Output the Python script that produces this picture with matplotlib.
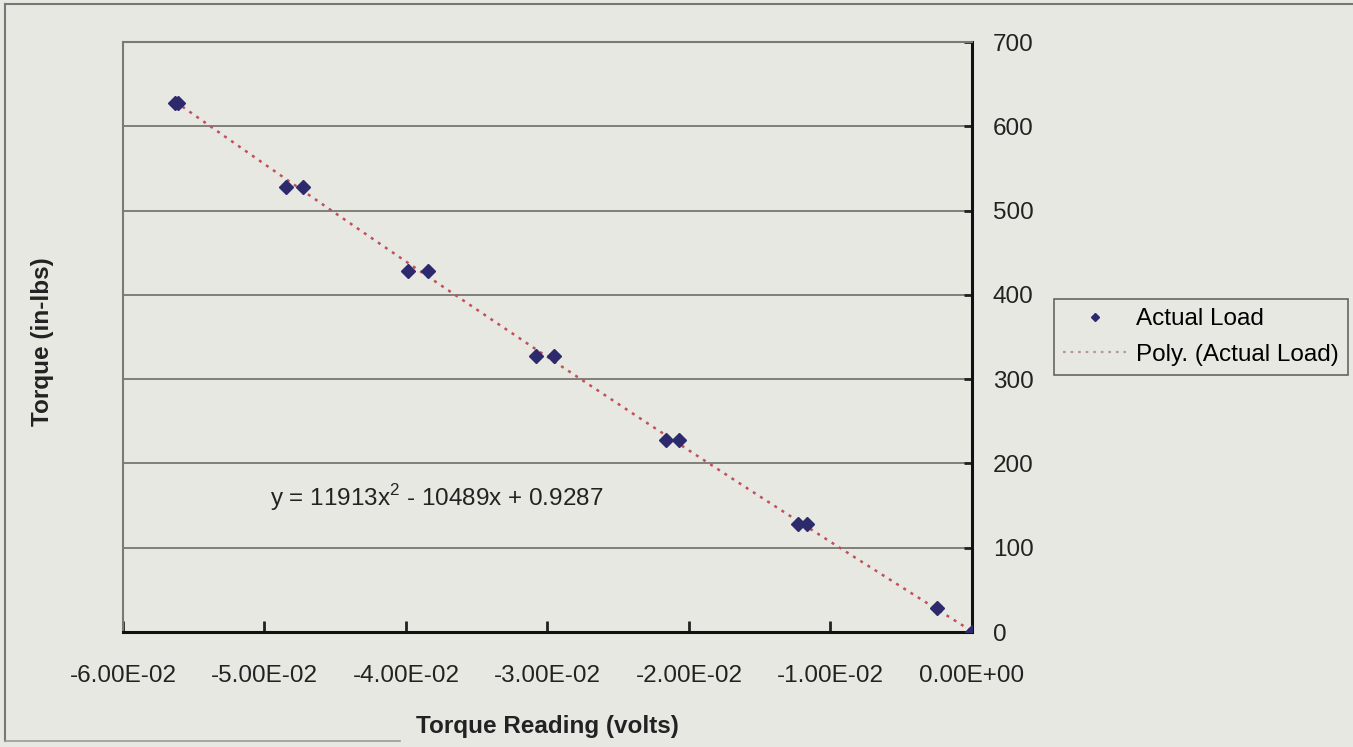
import numpy as np
import matplotlib
matplotlib.use("Agg")
import matplotlib.pyplot as plt
from matplotlib.lines import Line2D

plt.rcParams['font.family'] = ['Liberation Sans', 'DejaVu Sans']
plt.rcParams['mathtext.fontset'] = 'custom'
plt.rcParams['mathtext.rm'] = 'Liberation Sans'

# readings (volts) and applied torque (in-lbs)
reading = [0.0, -0.00245, -0.01232, -0.01168, -0.02163, -0.02069,
           -0.03081, -0.02954, -0.03984, -0.03842, -0.04848, -0.04726,
           -0.05629, -0.05608]
torque = [0, 28, 128, 128, 228, 228, 328, 328, 428, 428, 528, 528, 628, 628]

# trendline coefficients as printed on the chart
poly_coef = [11913, -10489, 0.9287]
eq_label = 'y = 11913x$^{\\mathregular{2}}$ - 10489x + 0.9287'

xticks = [-0.06, -0.05, -0.04, -0.03, -0.02, -0.01, 0.0]
yticks = [0, 100, 200, 300, 400, 500, 600, 700]

bg = '#e8e8e2'
fs = 17.5

fig = plt.figure(figsize=(13.53, 7.47), dpi=100, facecolor=bg)
ax = fig.add_axes([0.0909, 0.1539, 0.6275, 0.7898], facecolor=bg)

# trendline
xx = np.linspace(min(reading), max(reading), 200)
yy = np.polyval(poly_coef, xx)
ax.plot(xx, yy, color='#c0505a', lw=1.8, ls=(0, (1.2, 2.2)), zorder=2,
        label='Poly. (Actual Load)')
ax.plot(reading, torque, ls='none', marker='D', ms=7.5, color='#2c2a6c',
        zorder=3, label='Actual Load')

ax.set_xlim(-0.06, 0.0)
ax.set_ylim(0, 700)
ax.set_xticks(xticks)
ax.set_xticklabels(['{:.2E}'.format(v) for v in xticks])
ax.set_yticks(yticks)
ax.yaxis.tick_right()
ax.tick_params(axis='x', direction='in', length=8, width=2, pad=24,
               labelsize=fs, colors='#222222')
ax.tick_params(axis='y', direction='in', length=6, width=2, pad=15,
               labelsize=fs, colors='#222222')
ax.grid(axis='y', color='#6e6e68', lw=1.2)
ax.set_axisbelow(True)

for s in ['bottom', 'right']:
    ax.spines[s].set_color('#111111')
    ax.spines[s].set_linewidth(2.2)
for s in ['top', 'left']:
    ax.spines[s].set_color('#7a7a74')
    ax.spines[s].set_linewidth(1.5)

ax.text(-0.0496, 160, eq_label, fontsize=fs, va='center', ha='left',
        color='#222222')

ax.set_xlabel('Torque Reading (volts)', fontsize=fs, fontweight='bold',
              labelpad=20, color='#222222')
fig.text(43 / 1353, 1 - 342 / 747, 'Torque (in-lbs)', rotation=90,
         fontsize=fs, fontweight='bold', ha='center', va='center',
         color='#222222')

handles = [Line2D([], [], ls='none', marker='D', ms=4.5, color='#2c2a6c'),
           Line2D([], [], color='#b8949c', lw=1.6, ls=(0, (1.2, 2.2)))]
leg = fig.legend(handles, ['Actual Load', 'Poly. (Actual Load)'],
                 loc='upper left', bbox_to_anchor=(1054 / 1353, 1 - 299 / 747),
                 borderaxespad=0, fontsize=fs, frameon=True, fancybox=False,
                 handlelength=2.6, handletextpad=0.4, labelspacing=0.55,
                 borderpad=0.38, facecolor=bg, edgecolor='#444444')
leg.get_frame().set_linewidth(1.2)

# outer chart frame
fig.add_artist(Line2D([5 / 1353, 5 / 1353], [1 - 741 / 747, 1 - 4 / 747],
                      transform=fig.transFigure, color='#777777', lw=1.5))
fig.add_artist(Line2D([5 / 1353, 1.0], [1 - 4 / 747, 1 - 4 / 747],
                      transform=fig.transFigure, color='#777777', lw=1.5))
fig.add_artist(Line2D([5 / 1353, 400 / 1353], [1 - 741 / 747, 1 - 741 / 747],
                      transform=fig.transFigure, color='#999999', lw=1.2))

fig.savefig('out.png', dpi=100, facecolor=bg)
